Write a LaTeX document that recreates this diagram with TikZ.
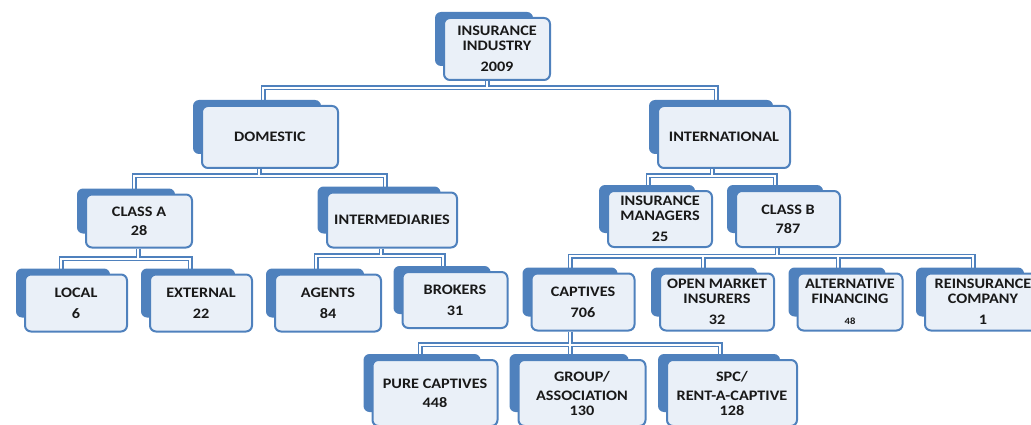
\documentclass[tikz,border=0pt]{standalone}
\usepackage{fontspec}
\setmainfont{Carlito}[FakeStretch=1.12]
\usetikzlibrary{backgrounds}

\definecolor{boxblue}{RGB}{79,129,189}
\definecolor{boxfill}{RGB}{234,240,248}

\tikzset{
  backbox/.style={fill=boxblue, rounded corners=6pt, inner sep=0pt},
  frontbox/.style={draw=boxblue, line width=2pt, fill=boxfill, rounded corners=6pt,
    inner sep=0pt, align=center, text=black!90,
    font=\bfseries\fontsize{14.5}{15}\selectfont},
  link/.style={draw=boxblue, line width=1.5pt, double=white, double distance=2pt},
}

\begin{document}
\begin{tikzpicture}[x=1pt, y=-1pt]
	\useasboundingbox (0,0) rectangle (1031,425);

	% level 0
	\node[backbox, minimum width=98, minimum height=54] at (484,39) {};
	\node[frontbox, minimum width=106, minimum height=62] (ind) at (497,49) {INSURANCE\\INDUSTRY\\[6pt]2009};

	% level 1
	\node[backbox, minimum width=128, minimum height=54] at (257,127) {};
	\node[frontbox, minimum width=136, minimum height=62] (dom) at (270,137) {DOMESTIC};
	\node[backbox, minimum width=124, minimum height=54] at (711,127) {};
	\node[frontbox, minimum width=132, minimum height=62] (intl) at (724,137) {INTERNATIONAL};

	% level 2
	\node[backbox, minimum width=98, minimum height=45] at (126,211) {};
	\node[frontbox, minimum width=106, minimum height=53] (clsa) at (139,221) {CLASS A\\[4pt]28};
	\node[backbox, minimum width=123, minimum height=47] at (379,210) {};
	\node[frontbox, minimum width=130, minimum height=55] (inter) at (392,220) {INTERMEDIARIES};
	\node[backbox, minimum width=96, minimum height=48] at (647,209) {};
	\node[frontbox, minimum width=104, minimum height=56] (mgr) at (660,219) {INSURANCE\\MANAGERS\\[6pt]25};
	\node[backbox, minimum width=96, minimum height=48] at (775,209) {};
	\node[frontbox, minimum width=104, minimum height=56] (clsb) at (788,219) {CLASS B\\[4pt]787};

	% level 3
	\node[backbox, minimum width=94, minimum height=49] at (63,293) {};
	\node[frontbox, minimum width=102, minimum height=57] (loc) at (76,303) {LOCAL\\[6pt]6};
	\node[backbox, minimum width=94, minimum height=49] at (188,293) {};
	\node[frontbox, minimum width=102, minimum height=57] (ext) at (201,303) {EXTERNAL\\[6pt]22};
	\node[backbox, minimum width=98, minimum height=49] at (315,293) {};
	\node[frontbox, minimum width=106, minimum height=57] (agt) at (328,303) {AGENTS\\[6pt]84};
	\node[backbox, minimum width=97, minimum height=48] at (442,290) {};
	\node[frontbox, minimum width=105, minimum height=56] (brk) at (455,300) {BROKERS\\[6pt]31};
	\node[backbox, minimum width=95, minimum height=49] at (570,292) {};
	\node[frontbox, minimum width=103, minimum height=57] (cap) at (583,302) {CAPTIVES\\[6pt]706};
	\node[backbox, minimum width=106, minimum height=49] at (704,292) {};
	\node[frontbox, minimum width=114, minimum height=57] (omi) at (717,302) {OPEN MARKET\\INSURERS\\[6pt]32};
	\node[backbox, minimum width=97, minimum height=49] at (837,292) {};
	\node[frontbox, minimum width=105, minimum height=57] (alt) at (850,302) {ALTERNATIVE\\FINANCING\\[6pt]{\fontsize{9.5}{10}\selectfont 48}};
	\node[backbox, minimum width=108, minimum height=49] at (970,292) {};
	\node[frontbox, minimum width=116, minimum height=57] (rei) at (983,302) {REINSURANCE\\COMPANY\\[6pt]1};

	% level 4
	\node[backbox, minimum width=117, minimum height=58] at (422,383) {};
	\node[frontbox, minimum width=125, minimum height=66] (pure) at (435,393) {PURE CAPTIVES\\[4pt]448};
	\node[backbox, minimum width=119, minimum height=58] at (569,383) {};
	\node[frontbox, minimum width=127, minimum height=66] (grp) at (582,393) {GROUP/\\[4pt]ASSOCIATION\\130};
	\node[backbox, minimum width=122, minimum height=58] at (719,383) {};
	\node[frontbox, minimum width=130, minimum height=66] (spc) at (732,393) {SPC/\\[4pt]RENT-A-CAPTIVE\\128};

	% connectors
	\begin{scope}[on background layer]
		\draw[link] ([xshift=-10pt]ind.south) -- ++(0,7) -| ([xshift=-7pt]dom.north)
			([xshift=-10pt]ind.south) ++(0,7) -| ([xshift=-8pt]intl.north);

		\draw[link] ([xshift=-11pt]dom.south) -- ++(0,7) -| ([xshift=-5pt]clsa.north)
			([xshift=-11pt]dom.south) ++(0,7) -| ([xshift=-7pt]inter.north);
		\draw[link] ([xshift=-12pt]intl.south) -- ++(0,7) -| ([xshift=-12pt]mgr.north)
			([xshift=-12pt]intl.south) ++(0,7) -| ([xshift=-13pt]clsb.north);

		\draw[link] ([xshift=-1pt]clsa.south) -- ++(0,10) -| ([xshift=-15pt]loc.north)
			([xshift=-1pt]clsa.south) ++(0,10) -| ([xshift=-11pt]ext.north);
		\draw[link] ([xshift=-11pt]inter.south) -- ++(0,7) -| ([xshift=-12pt]agt.north)
			([xshift=-11pt]inter.south) ++(0,7) -| ([xshift=-12pt]brk.north);

		\draw[link] ([xshift=-11pt]clsb.south) -- ++(0,8) -| ([xshift=-13pt]cap.north)
			([xshift=-11pt]clsb.south) ++(0,8) -| ([xshift=-14pt]omi.north)
			([xshift=-11pt]clsb.south) ++(0,8) -| ([xshift=-12pt]alt.north)
			([xshift=-11pt]clsb.south) ++(0,8) -| ([xshift=-10pt]rei.north);

		\draw[link] ([xshift=-13pt]cap.south) -- ++(0,13) -| ([xshift=-15pt]pure.north)
			([xshift=-13pt]cap.south) ++(0,13) -| ([xshift=-12pt]grp.north)
			([xshift=-13pt]cap.south) ++(0,13) -| ([xshift=-12pt]spc.north);
	\end{scope}
\end{tikzpicture}
\end{document}
